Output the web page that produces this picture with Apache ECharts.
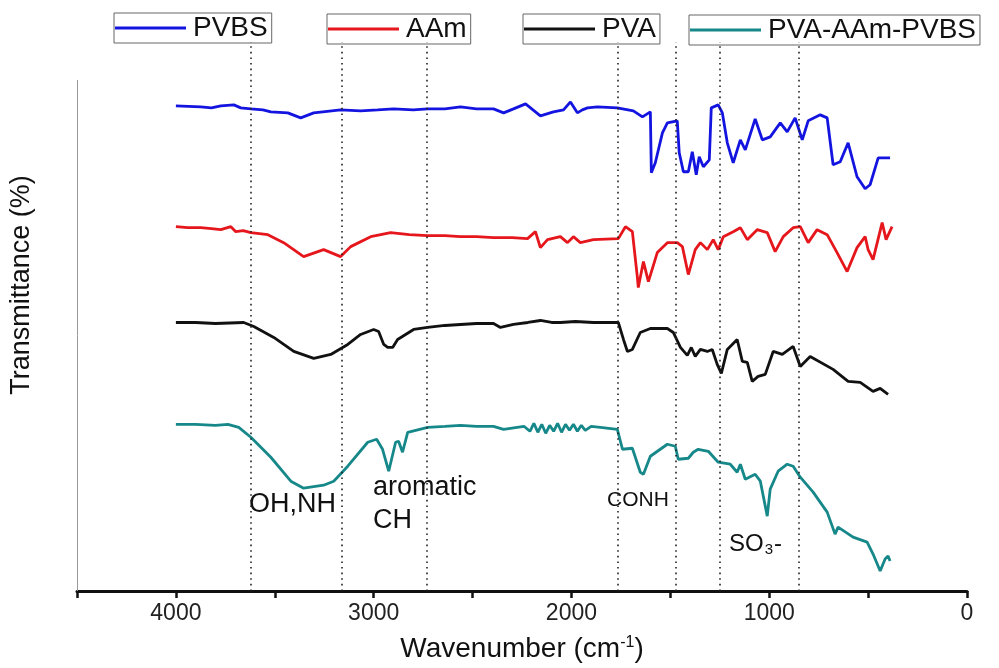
<!DOCTYPE html>
<html>
<head>
<meta charset="utf-8">
<script src="https://cdn.jsdelivr.net/npm/echarts@6/dist/echarts.min.js"></script>
<style>html,body{margin:0;padding:0;background:#fff}#c{width:999px;height:668px}</style>
</head>
<body>
<div id="c"></div>
<script>
// wavenumber (cm-1), transmittance (offset, arbitrary units)
const seriesNames = ['PVBS', 'AAm', 'PVA', 'PVA-AAm-PVBS'];
const xTicks = [4000, 3000, 2000, 1000, 0];
const bandLines = [3620, 3160, 2730, 1765, 1475, 1250, 850];

const pvbs = [[4000,486],[3874,485],[3820,484],[3773,486],[3707,487],[3672,484],[3621,483],[3560,482],[3520,480],[3434,479],[3369,474],[3303,479],[3167,482],[3066,481],[2980,482],[2899,483],[2800,482],[2727,483],[2640,483],[2561,485],[2480,483],[2394,483],[2343,479],[2293,483],[2232,488],[2157,476],[2091,480],[2040,482],[2005,490],[1970,479],[1945,482],[1919,484],[1869,485],[1768,484],[1687,481],[1641,475],[1601,480],[1596,419],[1576,429],[1540,459],[1515,469],[1465,471],[1455,439],[1434,420],[1409,420],[1389,440],[1369,417],[1354,435],[1333,425],[1303,432],[1293,484],[1258,487],[1237,479],[1212,449],[1182,429],[1146,452],[1121,442],[1071,473],[1035,452],[995,455],[944,469],[909,460],[869,474],[833,452],[803,471],[742,477],[707,474],[677,427],[641,430],[601,449],[556,415],[515,403],[490,407],[449,434],[389,434]];

const aam = [[4000,365],[3940,364],[3874,364],[3820,363],[3773,362],[3722,365],[3697,360],[3660,361],[3621,359],[3535,357],[3455,349],[3354,335],[3253,342],[3167,335],[3116,345],[3015,355],[2914,359],[2820,357],[2727,356],[2640,356],[2561,355],[2480,355],[2394,354],[2300,354],[2222,353],[2182,360],[2157,344],[2121,352],[2056,355],[2020,349],[1990,355],[1955,349],[1889,352],[1763,353],[1727,365],[1692,360],[1667,315],[1662,304],[1636,330],[1611,310],[1566,339],[1515,349],[1465,349],[1439,345],[1409,317],[1374,342],[1348,349],[1313,342],[1283,352],[1258,342],[1232,355],[1182,360],[1146,364],[1111,352],[1061,362],[1010,359],[970,340],[929,355],[879,364],[843,365],[803,349],[758,362],[707,357],[657,339],[606,320],[556,344],[515,355],[500,342],[475,332],[429,369],[409,352],[379,365]];

const pva = [[4000,269],[3900,269],[3800,268],[3657,269],[3606,265],[3505,254],[3404,240],[3303,233],[3217,237],[3131,247],[3066,257],[3000,262],[2975,260],[2949,247],[2929,244],[2904,244],[2879,252],[2798,262],[2727,264],[2640,266],[2561,267],[2480,268],[2394,268],[2359,264],[2293,267],[2220,269],[2157,271],[2100,269],[2056,269],[1980,270],[1889,269],[1763,269],[1737,252],[1717,240],[1692,242],[1652,259],[1601,263],[1515,263],[1485,259],[1449,244],[1414,236],[1394,244],[1374,235],[1348,242],[1313,240],[1288,242],[1263,227],[1242,218],[1212,242],[1162,252],[1136,230],[1111,229],[1086,210],[1056,215],[1020,217],[980,240],[934,237],[879,245],[843,225],[793,235],[677,222],[601,210],[540,209],[475,200],[439,203],[399,197]];

const blend = [[4000,167],[3900,167],[3800,166],[3737,167],[3682,164],[3621,154],[3520,134],[3419,110],[3354,103],[3253,106],[3202,110],[3131,125],[3030,149],[2985,152],[2955,142],[2924,120],[2889,149],[2874,150],[2854,139],[2828,159],[2727,164],[2640,165],[2561,166],[2480,165],[2394,165],[2343,162],[2240,165],[2210,160],[2190,168],[2170,159],[2150,167],[2130,158],[2110,166],[2090,160],[2070,168],[2050,159],[2030,167],[2010,161],[1990,167],[1970,160],[1950,166],[1930,161],[1900,165],[1854,164],[1768,162],[1742,142],[1692,143],[1652,119],[1636,117],[1601,135],[1515,147],[1475,145],[1460,132],[1409,133],[1384,139],[1359,142],[1308,140],[1258,129],[1197,127],[1162,119],[1146,127],[1121,112],[1071,117],[1045,110],[1010,75],[995,102],[955,120],[909,127],[879,125],[843,114],[778,99],[707,79],[667,57],[652,64],[576,54],[505,49],[475,37],[439,20],[414,32],[399,35],[389,30]];

const colors = ['#1414e0', '#e5161c', '#111111', '#17888a'];
const dataSets = [pvbs, aam, pva, blend];

const chart = echarts.init(document.getElementById('c'), null, {renderer: 'canvas'});
const FONT = 'Liberation Sans, Arial, sans-serif';

const legendBoxes = [
  {left: 114, top: 13},
  {left: 327, top: 14},
  {left: 523, top: 14},
  {left: 689, top: 15}
];

const series = dataSets.map((d, i) => ({
  name: seriesNames[i],
  type: 'line',
  data: d,
  showSymbol: false,
  symbol: 'none',
  lineStyle: {color: colors[i], width: 2.8},
  itemStyle: {color: colors[i]},
  z: 3
}));

series.push({
  name: 'guides',
  type: 'line',
  data: [],
  silent: true,
  markLine: {
    silent: true,
    symbol: 'none',
    label: {show: false},
    animation: false,
    data: bandLines.map(w => [
      {coord: [w, 0], lineStyle: {color: '#222', width: 1.6, type: [1.6, 4]}},
      {coord: [w, 550]}
    ]).concat([[
      {coord: [4500, 0], lineStyle: {color: '#999', width: 1, type: 'solid'}},
      {coord: [4500, 512]}
    ]])
  }
});

chart.setOption({
  animation: false,
  backgroundColor: '#ffffff',
  grid: {left: 77, right: 32, top: 42, bottom: 76},
  legend: seriesNames.map((n, i) => ({
    data: [n],
    left: legendBoxes[i].left,
    top: legendBoxes[i].top,
    orient: 'horizontal',
    icon: 'rect',
    itemWidth: 71,
    itemHeight: 3,
    padding: [0, 4, 0, 1],
    borderColor: '#666',
    borderWidth: 1,
    selectedMode: false,
    textStyle: {fontFamily: FONT, fontSize: 28, color: '#111', lineHeight: 30, padding: [0, 0, 0, 2]}
  })),
  xAxis: {
    type: 'value',
    inverse: true,
    min: 0,
    max: 4500,
    interval: 500,
    name: '{a|Wavenumber (cm}{s|-1}{a|)}',
    nameLocation: 'middle',
    nameGap: 44,
    nameTextStyle: {
      rich: {
        a: {fontFamily: FONT, fontSize: 28, color: '#111'},
        s: {fontFamily: FONT, fontSize: 16, color: '#111', verticalAlign: 'top', padding: [0, 0, 12, 0]}
      }
    },
    axisLine: {show: true, lineStyle: {color: '#111', width: 3}},
    axisTick: {show: true, length: 7, lineStyle: {color: '#111', width: 2.5}},
    splitLine: {show: false},
    axisLabel: {
      margin: 11,
      fontFamily: FONT,
      fontSize: 23,
      color: '#222',
      formatter: v => (xTicks.indexOf(v) >= 0 ? String(v) : '')
    }
  },
  yAxis: {
    type: 'value',
    min: 0,
    max: 550,
    show: false
  },
  graphic: [
    {type: 'text', x: 22, y: 285, rotation: Math.PI / 2,
      style: {text: 'Transmittance (%)', fontFamily: FONT, fontSize: 27, fill: '#111', align: 'center', verticalAlign: 'middle'}},
    {type: 'text', x: 249, y: 491, style: {text: 'OH,NH', fontFamily: FONT, fontSize: 27, fill: '#111'}},
    {type: 'text', x: 373, y: 474, style: {text: 'aromatic', fontFamily: FONT, fontSize: 27, fill: '#111'}},
    {type: 'text', x: 373, y: 507, style: {text: 'CH', fontFamily: FONT, fontSize: 27, fill: '#111'}},
    {type: 'text', x: 607, y: 490, style: {text: 'CONH', fontFamily: FONT, fontSize: 21, fill: '#111'}},
    {type: 'text', x: 729, y: 532, style: {
      text: '{a|SO}{b|3}{a|-}', fontFamily: FONT, fontSize: 24, fill: '#111',
      rich: {
        a: {fontFamily: FONT, fontSize: 24, fill: '#111', color: '#111'},
        b: {fontFamily: FONT, fontSize: 15, fill: '#111', color: '#111', verticalAlign: 'bottom', padding: [10, 1, 0, 1]}
      }
    }}
  ],
  series: series
});
</script>
</body>
</html>
